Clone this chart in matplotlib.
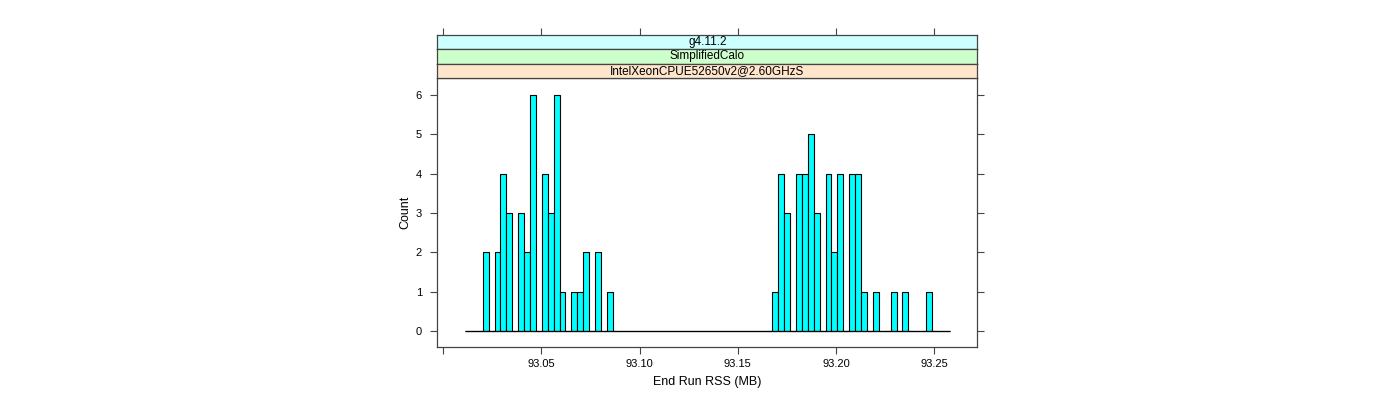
import numpy as np
import matplotlib
matplotlib.use("Agg")
import matplotlib.pyplot as plt

plt.rcParams['font.family'] = ['Liberation Sans', 'DejaVu Sans']

# histogram bins (82 equal bins) and counts
bin_start = 93.0112
bin_width = 0.003008
counts = [0, 0, 0, 2, 0, 2, 4, 3, 0, 3, 2, 6, 0, 4, 3, 6, 1, 0, 1, 1,
          2, 0, 2, 0, 1, 0, 0, 0, 0, 0, 0, 0, 0, 0, 0, 0, 0, 0, 0, 0,
          0, 0, 0, 0, 0, 0, 0, 0, 0, 0, 0, 0, 1, 4, 3, 0, 4, 4, 5, 3,
          0, 4, 2, 4, 0, 4, 4, 1, 0, 1, 0, 0, 1, 0, 1, 0, 0, 0, 1, 0,
          0, 0]
strips = ['g4.11.2', 'SimplifiedCalo', 'IntelXeonCPUE52650v2@2.60GHzS']
strip_colors = ['#ccffff', '#ccffcc', '#ffe5cc']
x_ticks = [93.00, 93.05, 93.10, 93.15, 93.20, 93.25]
x_ticklabels = ['', '93.05', '93.10', '93.15', '93.20', '93.25']
y_ticks = [0, 1, 2, 3, 4, 5, 6]

edges = bin_start + bin_width * np.arange(len(counts))
xlim = (92.9971, 93.2719)
ylim = (-0.4, 6.42)
axc = '#444444'

fig = plt.figure(figsize=(14, 4), dpi=100)
W, H = 1400, 400
L, R = 437.3, 977.3
ptop, pbot = 78.3, 346.7

ax = fig.add_axes([L / W, 1 - pbot / H, (R - L) / W, (pbot - ptop) / H])
ax.bar(edges, counts, width=bin_width, align='edge', color='#00ffff',
       edgecolor='black', linewidth=0.8)
ax.hlines(0, edges[0], edges[-1] + bin_width, color='black', linewidth=0.9)
ax.set_xlim(*xlim)
ax.set_ylim(*ylim)
ax.set_xticks(x_ticks)
ax.set_xticklabels(x_ticklabels)
ax.set_yticks(y_ticks)
ax.tick_params(axis='both', direction='out', length=5, width=0.8, color=axc,
               labelsize=8, pad=6)
ax.tick_params(axis='x', pad=4)
ax.tick_params(axis='y', right=True, labelright=False)
for s in ax.spines.values():
    s.set_color(axc)
    s.set_linewidth(0.9)
ax.set_xlabel('End Run RSS (MB)', fontsize=9, labelpad=5)
ax.set_ylabel('Count', fontsize=9, labelpad=3)

# stacked strips above the panel
sh = (ptop - 34.7) / 3
for i, (txt, col) in enumerate(zip(strips, strip_colors)):
    top = 34.7 + i * sh
    sax = fig.add_axes([L / W, 1 - (top + sh) / H, (R - L) / W, sh / H])
    sax.set_facecolor(col)
    sax.set_xlim(*xlim)
    sax.set_yticks([])
    if i == 0:
        sax.set_xticks(x_ticks)
        sax.tick_params(axis='x', top=True, bottom=False, labeltop=False,
                        labelbottom=False, direction='out', length=5,
                        width=0.8, color=axc)
    else:
        sax.set_xticks([])
    for s in sax.spines.values():
        s.set_color(axc)
        s.set_linewidth(0.9)
    sax.text(0.5, 0.5, txt, transform=sax.transAxes, ha='center',
             va='center', fontsize=8.5)

fig.savefig('out.png', dpi=100)
